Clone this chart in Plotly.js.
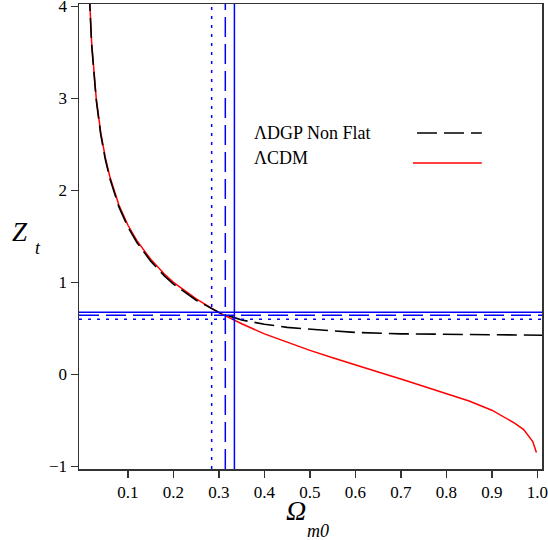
<!DOCTYPE html>
<html>
<head>
<meta charset="utf-8">
<script src="https://cdn.plot.ly/plotly-3.0.1.min.js"></script>
<style>html,body{margin:0;padding:0;background:#fff;}#chart{width:548px;height:540px;}</style>
</head>
<body>
<div id="chart"></div>
<script>
// ΛCDM transition redshift vs Ω_m0
const omegaLCDM = [0.012, 0.0155, 0.02, 0.03, 0.04, 0.05, 0.06, 0.08, 0.10, 0.12, 0.15, 0.18, 0.20, 0.25, 0.30, 0.35, 0.40, 0.45, 0.50, 0.55, 0.60, 0.65, 0.70, 0.75, 0.80, 0.85, 0.90, 0.95, 0.97, 0.99, 0.998];
const ztLCDM    = [4.48, 4.03, 3.61, 3.01, 2.63, 2.36, 2.15, 1.84, 1.62, 1.45, 1.25, 1.09, 1.00, 0.82, 0.67, 0.55, 0.44, 0.35, 0.26, 0.18, 0.10, 0.025, -0.05, -0.13, -0.21, -0.29, -0.39, -0.53, -0.60, -0.73, -0.85];

// ΛDGP non-flat
const omegaDGP = [0.012, 0.0155, 0.02, 0.03, 0.04, 0.05, 0.06, 0.08, 0.10, 0.12, 0.15, 0.18, 0.20, 0.25, 0.30, 0.35, 0.40, 0.45, 0.50, 0.55, 0.60, 0.70, 0.80, 0.90, 1.0, 1.02];
const ztDGP    = [4.46, 4.01, 3.59, 2.99, 2.61, 2.34, 2.13, 1.82, 1.60, 1.43, 1.23, 1.07, 0.98, 0.805, 0.672, 0.59, 0.545, 0.51, 0.49, 0.47, 0.455, 0.44, 0.433, 0.428, 0.425, 0.425];

// Observational bounds (blue lines): dotted, dashed, solid
const omegaBounds = [0.284, 0.314, 0.334];
const ztBounds    = [0.598, 0.641, 0.674];
const boundDash   = ['3px,6px', '20px,7px', 'solid'];

const xTicks = [0.1, 0.2, 0.3, 0.4, 0.5, 0.6, 0.7, 0.8, 0.9, 1.0];
const yTicks = [-1, 0, 1, 2, 3, 4];
const legendLabels = ['ΛDGP Non Flat', 'ΛCDM'];

const serif = 'Liberation Serif';

const traces = [
  {x: omegaLCDM, y: ztLCDM, mode: 'lines', line: {color: '#ff0000', width: 1.5}, showlegend: false, hoverinfo: 'skip'},
  {x: omegaDGP, y: ztDGP, mode: 'lines', line: {color: '#000000', width: 1.6, dash: '20px,7px'}, showlegend: false, hoverinfo: 'skip'}
];

const shapes = [];
omegaBounds.forEach((v, i) => {
  shapes.push({type: 'line', xref: 'x', yref: 'paper', x0: v, x1: v, y0: 0, y1: 1,
    line: {color: '#0000ff', width: 1.5, dash: boundDash[i]}});
});
ztBounds.forEach((v, i) => {
  shapes.push({type: 'line', xref: 'paper', yref: 'y', x0: 0, x1: 1, y0: v, y1: v,
    line: {color: '#0000ff', width: 1.5, dash: boundDash[i]}});
});
// legend samples
shapes.push({type: 'line', xref: 'paper', yref: 'paper', x0: 0.730, x1: 0.870, y0: 0.7226, y1: 0.7226,
  line: {color: '#000', width: 1.6, dash: '20px,7px'}});
shapes.push({type: 'line', xref: 'paper', yref: 'paper', x0: 0.7214, x1: 0.870, y0: 0.658, y1: 0.658,
  line: {color: '#ff0000', width: 1.5}});

const annotations = [
  {xref: 'paper', yref: 'paper', x: 0.3737, y: 0.7226, xanchor: 'left', yanchor: 'middle', showarrow: false,
   text: legendLabels[0], font: {family: serif, size: 18, color: '#000'}},
  {xref: 'paper', yref: 'paper', x: 0.3737, y: 0.669, xanchor: 'left', yanchor: 'middle', showarrow: false,
   text: legendLabels[1], font: {family: serif, size: 18, color: '#000'}},
  {xref: 'paper', yref: 'paper', x: -0.1274, y: 0.5097, xanchor: 'center', yanchor: 'middle', showarrow: false,
   text: '<i>Z</i>', font: {family: serif, size: 27, color: '#000'}},
  {xref: 'paper', yref: 'paper', x: -0.0886, y: 0.475, xanchor: 'center', yanchor: 'middle', showarrow: false,
   text: '<i>t</i>', font: {family: serif, size: 18, color: '#000'}},
  {xref: 'paper', yref: 'paper', x: 0.4687, y: -0.0903, xanchor: 'center', yanchor: 'middle', showarrow: false,
   text: '<i>Ω</i>', font: {family: serif, size: 28, color: '#000'}},
  {xref: 'paper', yref: 'paper', x: 0.516, y: -0.133, xanchor: 'center', yanchor: 'middle', showarrow: false,
   text: '<i>m0</i>', font: {family: serif, size: 18, color: '#000'}}
];

const axisCommon = {
  ticks: 'outside', ticklen: 7, tickwidth: 1.5, tickcolor: '#333',
  showline: true, linecolor: '#333', linewidth: 1.5, mirror: true,
  showgrid: false, zeroline: false, ticklabeloverflow: 'allow',
  tickfont: {family: serif, size: 17, color: '#000'}
};

const layout = {
  width: 548, height: 540,
  margin: {l: 79, r: 6, t: 4, b: 71, pad: 0},
  paper_bgcolor: '#fff', plot_bgcolor: '#fff',
  showlegend: false,
  font: {family: serif, size: 17, color: '#000'},
  xaxis: Object.assign({range: [-0.0077, 1.0103], tickvals: xTicks, tickformat: '.1f'}, axisCommon),
  yaxis: Object.assign({range: [-1.029, 4.025], tickvals: yTicks}, axisCommon),
  shapes: shapes,
  annotations: annotations
};

Plotly.newPlot('chart', traces, layout, {staticPlot: true, displayModeBar: false});
</script>
</body>
</html>
